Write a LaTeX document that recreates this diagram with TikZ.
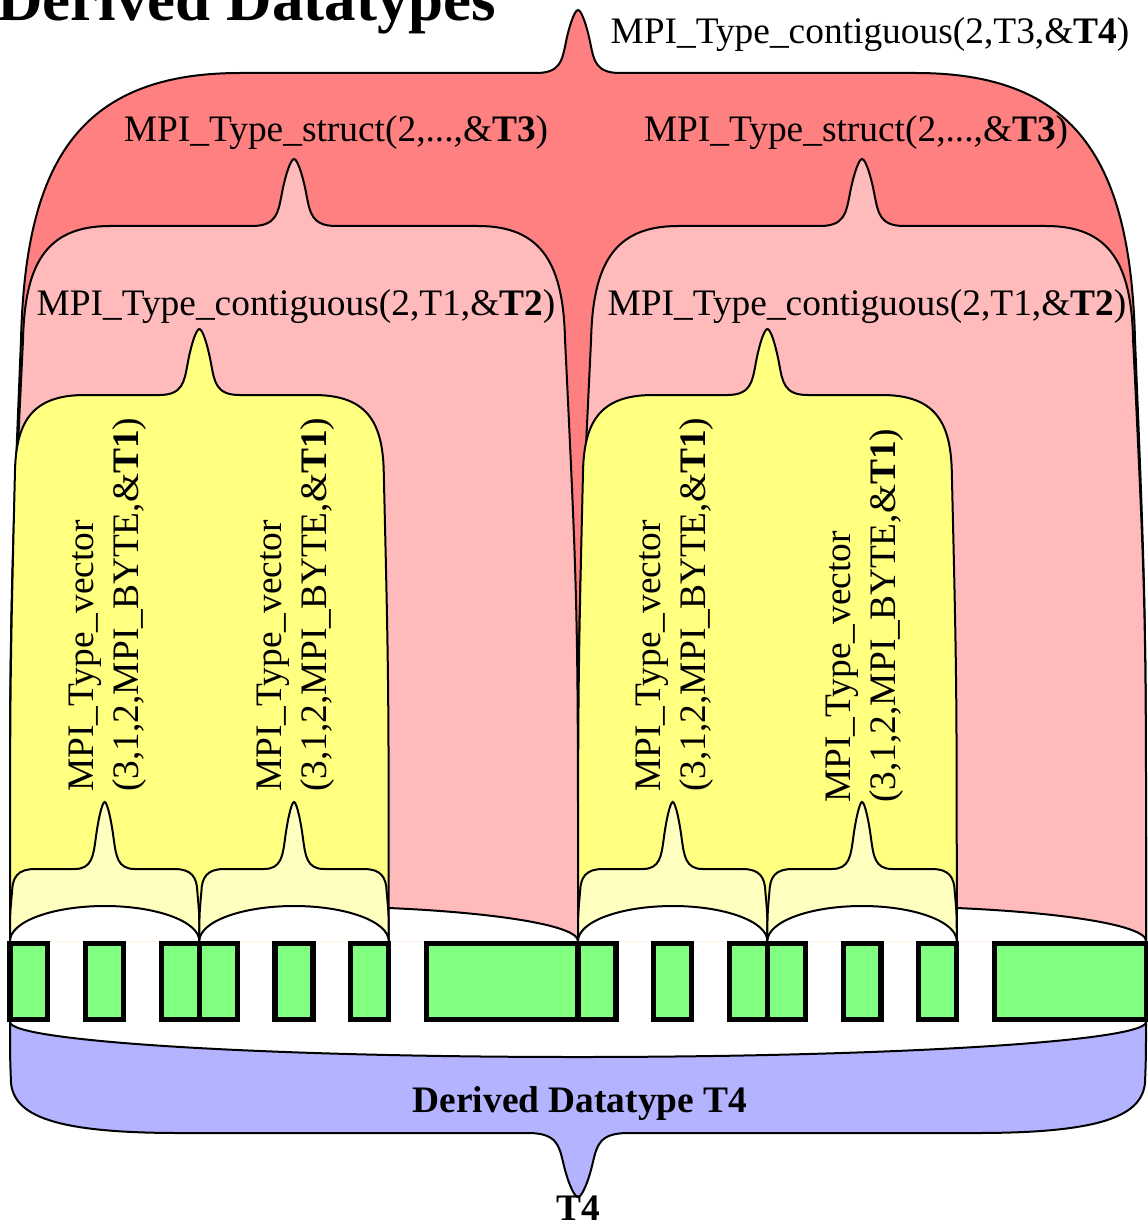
\documentclass[tikz,border=0pt]{standalone}
\usepackage{fontspec}
\setmainfont{Liberation Serif}
\definecolor{tfour}{HTML}{FF8080}
\definecolor{tthree}{HTML}{FFBBBB}
\definecolor{ttwo}{HTML}{FFFF80}
\definecolor{tone}{HTML}{FFFFC0}
\definecolor{cellgreen}{HTML}{80FF80}
\definecolor{dtblue}{HTML}{B3B3FF}
\newcommand{\lblsize}{\fontsize{18.7}{22}\selectfont}
\newcommand{\unitw}{37.87}
% brace: xl, xr, base, knee, bar, tip, corner reach, lean, cusp half width
\newcommand{\dtbrace}[9]{%
(#1,#3) .. controls (#1,{#4+0.45*(#3-#4)}) .. ({#1+#8},#4)
.. controls ({#1+#8+0.02*(#7-#8)},{#5+0.35*(#4-#5)}) and ({#1+#8+0.25*(#7-#8)},#5) .. ({#1+#7},#5)
-- ({(#1+#2)/2-#9},#5)
.. controls ({(#1+#2)/2-0.42*#9},#5) and ({(#1+#2)/2-0.38*#9},{#5-0.2*(#5-#6)}) .. ({(#1+#2)/2-0.3*#9},{#5-0.45*(#5-#6)})
.. controls ({(#1+#2)/2-0.23*#9},{#5-0.7*(#5-#6)}) and ({(#1+#2)/2-0.09*#9},#6) .. ({(#1+#2)/2},#6)
.. controls ({(#1+#2)/2+0.09*#9},#6) and ({(#1+#2)/2+0.23*#9},{#5-0.7*(#5-#6)}) .. ({(#1+#2)/2+0.3*#9},{#5-0.45*(#5-#6)})
.. controls ({(#1+#2)/2+0.38*#9},{#5-0.2*(#5-#6)}) and ({(#1+#2)/2+0.42*#9},#5) .. ({(#1+#2)/2+#9},#5)
-- ({#2-#7},#5)
.. controls ({#2-#8-0.25*(#7-#8)},#5) and ({#2-#8-0.02*(#7-#8)},{#5+0.35*(#4-#5)}) .. ({#2-#8},#4)
.. controls (#2,{#4+0.45*(#3-#4)}) .. (#2,#3)}
% lens: xl, xr, base, apex
\newcommand{\dtlens}[4]{%
(#1,#3) .. controls (#1,{#3+0.552*(#4-#3)}) and ({(#1+#2)/2-0.276*(#2-#1)},#4) .. ({(#1+#2)/2},#4)
.. controls ({(#1+#2)/2+0.276*(#2-#1)},#4) and (#2,{#3+0.552*(#4-#3)}) .. (#2,#3)}
\begin{document}
\begin{tikzpicture}[
   x=0.5pt, y=-0.5pt,
   outline/.style={draw=black, line width=1pt},
   cell/.style={draw=black, fill=cellgreen, line width=2.6pt},
   lbl/.style={font=\lblsize, inner sep=0pt, anchor=base},
   vlbl/.style={font=\lblsize, inner sep=0pt, rotate=90, anchor=base west}
]
   \useasboundingbox (0,0) rectangle (1147,1225);
   % T4
   \fill[tfour] \dtbrace{10}{1146}{941}{340}{73}{10}{230}{11}{42} -- cycle;
   \draw[outline] \dtbrace{10}{1146}{941}{340}{73}{10}{230}{11}{42};
   % T3
   \foreach \a in {0,15} {
      \pgfmathsetmacro\xl{10+\a*\unitw}
      \pgfmathsetmacro\xr{10+(\a+15)*\unitw}
      \fill[tthree] \dtbrace{\xl}{\xr}{941}{340}{226}{159}{100}{13}{42} -- cycle;
      \draw[outline] \dtbrace{\xl}{\xr}{941}{340}{226}{159}{100}{13}{42};
      \fill[white] \dtlens{\xl}{\xr}{941}{906} -- cycle;
      \draw[outline] \dtlens{\xl}{\xr}{941}{906};
   }
   % T2
   \foreach \a in {0,15} {
      \pgfmathsetmacro\xl{10+\a*\unitw}
      \pgfmathsetmacro\xr{10+(\a+10)*\unitw}
      \fill[ttwo] \dtbrace{\xl}{\xr}{941}{470}{395}{329}{75}{5}{40} -- cycle;
      \draw[outline] \dtbrace{\xl}{\xr}{941}{470}{395}{329}{75}{5}{40};
   }
   % T1
   \foreach \a in {0,5,15,20} {
      \pgfmathsetmacro\xl{10+\a*\unitw}
      \pgfmathsetmacro\xr{10+(\a+5)*\unitw}
      \fill[tone] \dtbrace{\xl}{\xr}{941}{892}{869}{802}{25}{2}{30} -- cycle;
      \draw[outline] \dtbrace{\xl}{\xr}{941}{892}{869}{802}{25}{2}{30};
      \fill[white] \dtlens{\xl}{\xr}{941}{906} -- cycle;
      \draw[outline] \dtlens{\xl}{\xr}{941}{906};
   }
   % whole datatype
   \fill[dtblue] \dtbrace{10}{1146}{1022}{1083}{1133}{1197}{170}{1}{50} -- cycle;
   \draw[outline] \dtbrace{10}{1146}{1022}{1083}{1133}{1197}{170}{1}{50};
   \fill[white] \dtlens{10}{1146}{1022}{1057} -- cycle;
   \draw[outline] \dtlens{10}{1146}{1022}{1057};
   % bytes
   \foreach \a/\b in {0/1,2/3,4/5,5/6,7/8,9/10,11/15,15/16,17/18,19/20,20/21,22/23,24/25,26/30}
      \draw[cell] ({10+\a*\unitw},943.6) rectangle ({10+\b*\unitw},1019.4);
   % labels
   \node (title) [inner sep=0pt, anchor=base west, font=\fontsize{31.5}{36}\selectfont\bfseries] at (-3,21) {Derived Datatypes};
   \node (lblT4) [lbl] at (870,44) {MPI\_Type\_contiguous(2,T3,\&\textbf{T4})};
   \node (lblT3a) [lbl] at (336,142) {MPI\_Type\_struct(2,...,\&\textbf{T3})};
   \node (lblT3b) [lbl] at (856,142) {MPI\_Type\_struct(2,...,\&\textbf{T3})};
   \node (lblT2a) [lbl] at (296,315) {MPI\_Type\_contiguous(2,T1,\&\textbf{T2})};
   \node (lblT2b) [lbl] at (867,315) {MPI\_Type\_contiguous(2,T1,\&\textbf{T2})};
   \foreach \c/\s [count=\i] in {105/792,293/792,672/792,862/803} {
      \node (vec\i a) [vlbl] at ({\c-12},\s) {MPI\_Type\_vector};
      \node (vec\i b) [vlbl] at ({\c+33},\s) {(3,1,2,MPI\_BYTE,\&\textbf{T1})};
   }
   \node (dtname) [lbl, font=\lblsize\bfseries] at (580,1112) {Derived Datatype T4};
   \node (dtT4) [lbl, font=\lblsize\bfseries] at (578,1220) {T4};
\end{tikzpicture}
\end{document}
